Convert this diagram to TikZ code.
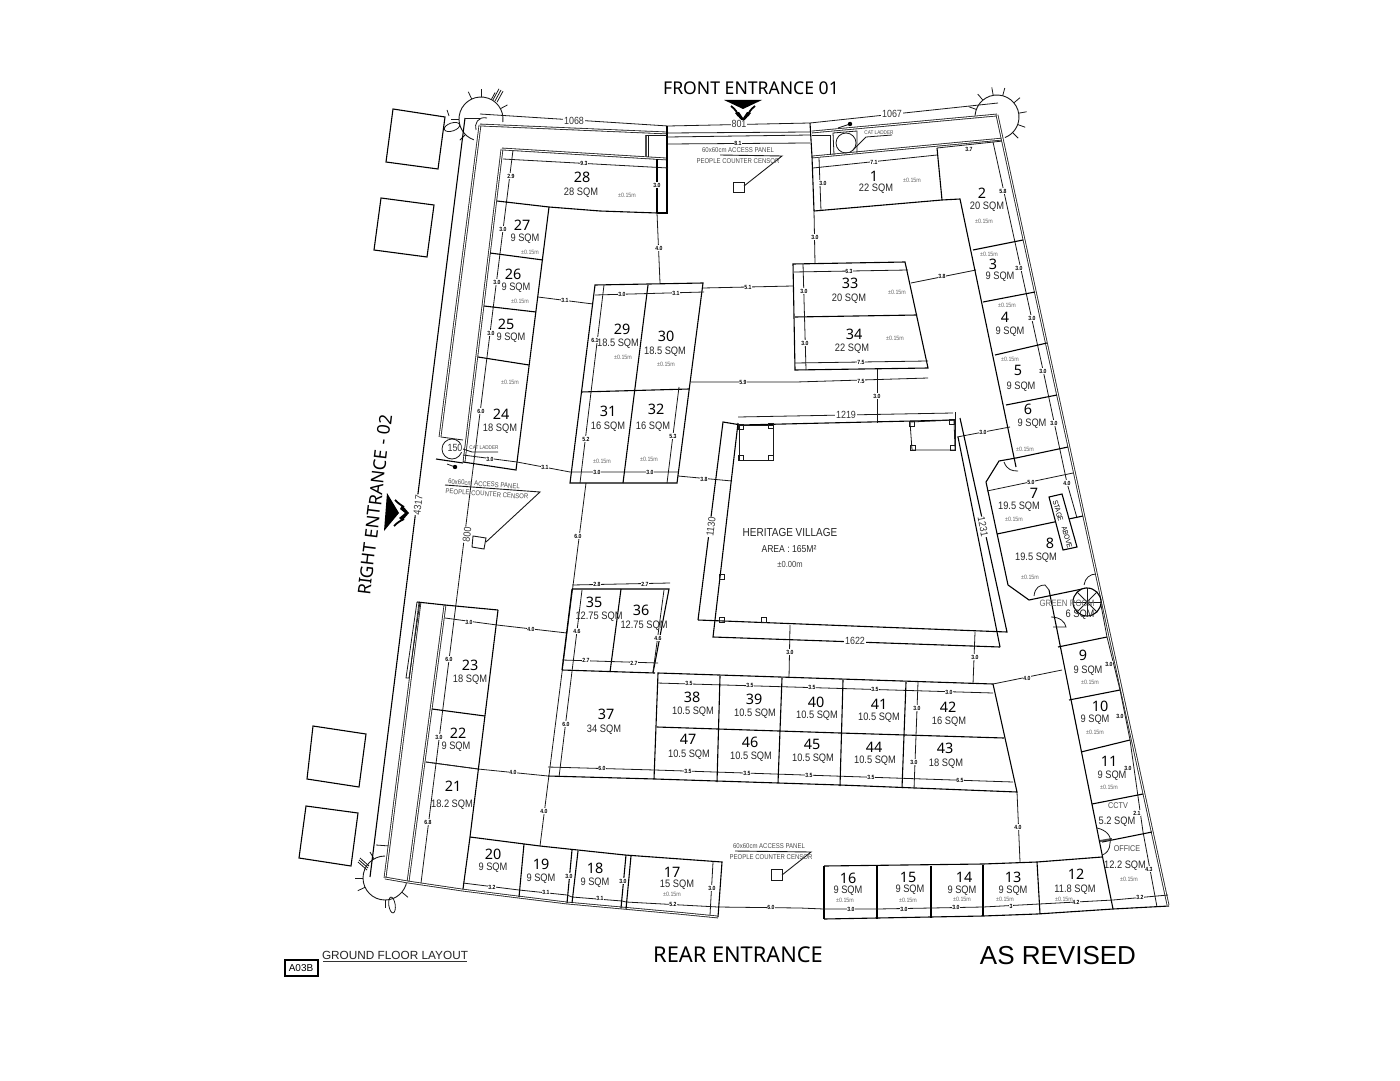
\documentclass[tikz,border=0pt]{standalone}
\usepackage{fontspec}
\setmainfont{Liberation Sans}
\newfontfamily\numfont{Noto Sans}
\newfontfamily\sqfont[FakeStretch=.86]{Liberation Sans}
\usetikzlibrary{calc}
\newcount\lblc
\newcommand{\nextl}{\global\advance\lblc by 1 }
\tikzset{
 ln/.style={line width=.55pt,black},
 fine/.style={line width=.4pt,black!90},
 wallx/.style={line width=.42pt,double=white,double distance=.5pt,black!85},
 wallb/.style={line width=1pt,black!70},
 rnumst/.style={font=\numfont\fontsize{7.2}{8}\selectfont,inner sep=0pt,text=black},
 rsqst/.style={font=\sqfont\fontsize{5.4}{6}\selectfont,inner sep=0pt,text=black!85},
 rlvst/.style={font=\sqfont\fontsize{3.1}{4}\selectfont,inner sep=0pt,text=black!60},
 dimst/.style={font=\bfseries\sqfont\fontsize{3}{3}\selectfont,inner sep=.25pt,fill=white,text=black},
 bigdim/.style={font=\sqfont\fontsize{5.2}{5}\selectfont,inner sep=.3pt,fill=white,text=black!80},
 notest/.style={font=\sqfont\fontsize{3.5}{4}\selectfont,inner sep=0pt,text=black!70},
 titlest/.style={font=\numfont\fontsize{8.8}{10}\selectfont,inner sep=0pt,text=black},
}
\newcommand{\rnum}[3]{\node[rnumst] (n#3) at (#1,#2) {#3};}
\newcommand{\rsq}[3]{\nextl\node[rsqst] (q\the\lblc) at (#1,#2) {#3};}
\newcommand{\rlv}[2]{\nextl\node[rlvst] (v\the\lblc) at (#1,#2) {±0.15m};}
\newcommand{\dm}[3]{\nextl\node[dimst] (d\the\lblc) at (#1,#2) {#3};}
\newcommand{\bd}[4][0]{\nextl\node[bigdim,rotate=#1] (b\the\lblc) at (#2,#3) {#4};}
\newcommand{\corner}[5]{% cx cy start end ticks
 \draw[fine,line width=.45pt] (#1,#2) ++(#3:11pt) arc[start angle=#3,end angle=#4,radius=11pt];
 \foreach \a in {#5}{\draw[fine] (#1,#2) ++(\a:11pt) -- ++(\a:4pt);}
}
\newcommand{\sqr}[2]{\draw[fine] (#1-2.5,#2-2.5) rectangle (#1+2.5,#2+2.5);}
\begin{document}
\begin{tikzpicture}[x=.5pt,y=-.5pt]
\useasboundingbox (0,0) rectangle (1400,1080);
\fill[white] (0,0) rectangle (1400,1080);
% outside squares
\draw[ln] (393,109)--(445,117)--(438,169)--(386,162)--cycle;
\draw[ln] (381,198)--(434,205)--(427,257)--(374,250)--cycle;
\draw[ln] (313,726)--(366,734)--(359,787)--(307,779)--cycle;
\draw[ln] (306,806)--(358,813)--(351,866)--(299,858)--cycle;
% corners
\corner{481}{119}{-8}{251}{28,62,90,115,180,225}
\corner{997}{117}{176}{-69}{160,130,100,75,40,10,-20,-45}
\corner{385}{878}{90}{352}{120,180,205,270,320}
\draw[fine] (452,127) ellipse [x radius=4pt,y radius=2pt,rotate=18];
\draw[fine] (392,905) ellipse [x radius=1.6pt,y radius=4pt,rotate=8];
\foreach \d in {-2,0,2}{\draw[fine] (495+\d,101+.6*\d)--(501+\d,90+.6*\d);\draw[fine] (368+\d*.5,868-\d)--(359+\d*.5,860-\d);}
\draw[fine] (447,110)--(449,116);
\draw[fine] (376,845)--(390,846);
% left outer lines
\draw[ln] (465,118)--(370,877);
\draw[wallx] (480,125)--(440,437);
\draw[wallx] (420,602)--(385,878);
\draw[wallx] (502,149)--(464,462);
\draw[wallx] (445,605)--(408,882);
\draw[fine] (417,602)--(406,678)--(409,678)--(420,602);
\draw[ln] (417,602)--(445,605);
% dim long left
\draw[fine] (513,150)--(421,883);
\draw[fine] (465,118)--(480,118);
\draw[fine] (476,130) .. controls (474,124) and (478,116) .. (487,118);
% top walls
\draw[fine] (480,114)--(668,126)--(810,123)--(998,103);
\draw[wallx] (480,125)--(668,133);
\draw[wallx] (502,149)--(667,159);
\draw[fine] (668,133)--(810,132);
\draw[fine] (668,137)--(810,135);
\draw[fine] (668,144)--(810,143);
\draw[wallx] (812,132)--(997,115);
\draw[wallx] (812,157)--(1003,139);
\draw[ln] (667,126)--(667,213)--(657,213);
\draw[wallb] (646,135)--(646,157);
\draw[fine] (648,135)--(648,157);
\draw[fine] (646,135)--(667,135);
\draw[ln] (810,123)--(812,157)--(814,211);
\draw[fine] (812,135)--(830,135)--(830,155);
\draw[fine] (834,155)--(833,133)--(857,131)--(857,153);
\draw[fine] (846,143) circle (5pt);
\draw[fine] (853,150)--(866,137)--(892,135);
\nextl\node[notest,font=\sqfont\fontsize{2.7}{3}\selectfont] (cat1) at (879,133) {CAT LADDER};
\draw[fine] (838,128)--(850,124);
\fill (850,124) circle (1.1pt);
% room 28
\draw[ln] (497,201)--(549,207)--(600,211)--(657,213);
\draw[fine] (503,159)--(668,168);
\draw[ln] (657,159)--(657,213);
% rooms 24-27
\draw[ln] (549,207)--(516,470)--(463,462);
\draw[ln] (490,253)--(543,260);
\draw[ln] (484,306)--(536,312);
\draw[ln] (478,357)--(529,365);
% cat ladder left
\draw[fine] (441,437)--(463,440);
\draw[fine] (452,449) circle (5pt);
\draw[ln] (436,459)--(463,463);
\draw[fine] (463,449)--(472,452)--(498,452);
\nextl\node[notest,font=\sqfont\fontsize{2.7}{3}\selectfont] (cat2) at (484,448) {CAT LADDER};
\draw[fine] (447,464)--(455,467);
\fill (455,467) circle (1.1pt);
% dim links
\draw[fine] (463,455)--(517,462)--(570,472)--(678,472);
\draw[fine] (538,297)--(593,304);
\draw[fine] (657,213)--(660,283);
\draw[fine] (814,211)--(815,264);
\draw[fine] (703,288)--(793,286);
\draw[fine] (911,283)--(976,270);
\draw[fine] (691,382)--(796,382)--(928,378);
\draw[fine] (877,368)--(877,423);
\draw[fine] (678,476)--(732,481);
\draw[fine] (957,437)--(1010,427);
\draw[fine] (790,625)--(789,678);
\draw[fine] (975,632)--(973,684);
\draw[fine] (993,684)--(1062,670);
\draw[fine] (1017,792)--(1020,862);
\draw[fine] (445,618)--(497,625)--(567,633);
\draw[fine] (426,762)--(478,769)--(548,776);
\draw[fine] (586,483)--(540,846);
% room 1 and right
\draw[ln] (814,211)--(942,200)--(960,199)--(1016,467);
\draw[ln] (937,148)--(942,200);
\draw[fine] (813,168)--(937,155);
\draw[fine] (819,158)--(821,211);
\draw[fine] (937,148)--(1003,141);
\draw[fine] (993,142)--(1043,370)--(1067,483)--(1077,518);
\draw[fine] (1100,600)--(1107,637)--(1120,690)--(1130,740)--(1143,832)--(1157,907);
\draw[wallx] (997,115)--(1168,905);
\draw[ln] (973,250)--(1023,240);
\draw[ln] (983,302)--(1035,292);
\draw[ln] (995,355)--(1047,343);
\draw[ln] (1006,405)--(1057,395);
\draw[ln] (1016,458)--(1068,447);
\draw[ln] (1016,458)--(999,461)--(986,482)--(1008,585)--(1029,600)--(1087,588);
\draw[fine] (987,491)--(1073,473);
\draw[ln] (997,534)--(1083,516);
\draw[fine] (1004,462) .. controls (1007,470) and (1012,471) .. (1018,471);
\draw[fine] (1034,596) .. controls (1035,587) and (1040,585) .. (1045,585)--(1049,590);
\draw[fine] (1084,585) .. controls (1085,578) and (1090,574) .. (1096,574);
\draw[fine] (1051,617) .. controls (1060,617) and (1065,622) .. (1066,627)--(1053,627);
% stage above
\draw[ln,fill=white] (1049,497)--(1062,494)--(1077,547)--(1063,550)--cycle;
\nextl\node[font=\sqfont\fontsize{3.7}{5}\selectfont,inner sep=0pt,rotate=-74] (st1) at (1058,511) {STAGE};
\nextl\node[font=\sqfont\fontsize{3.7}{5}\selectfont,inner sep=0pt,rotate=-74] (st2) at (1067,537) {ABOVE};
% right lower
\draw[ln] (1049,590)--(1113,909);
\draw[ln] (1058,647)--(1107,637);
\draw[ln] (1069,700)--(1120,690);
\draw[ln] (1081,752)--(1130,740);
\draw[ln] (1092,804)--(1143,794);
\draw[ln] (1102,842)--(1152,832);
\draw[wallb] (1100,841)--(1112,839);
\draw[fine] (1097,828) .. controls (1106,830) and (1112,836) .. (1110,843) .. controls (1110,850) and (1106,854) .. (1102,855);
% bottom row right
\draw[ln] (824,866)--(983,864)--(1037,862)--(1102,857);
\draw[ln] (824,919)--(983,916)--(1037,914)--(1113,909)--(1169,906);
\draw[ln] (824,866)--(824,919);
\draw[ln] (877,866)--(877,919);
\draw[ln] (931,866)--(931,918);
\draw[ln] (983,865)--(983,916);
\draw[ln] (1037,862)--(1040,914);
\draw[fine] (718,907)--(800,908)--(824,909)--(877,909)--(931,908)--(983,907)--(1039,904)--(1113,900)--(1168,895);
% bottom curved wall
\draw[wallx] (385,878)--(408,882)--(462,890)--(518,897)--(567,903)--(622,908)--(677,913)--(718,917);
\draw[ln] (470,837)--(540,846)--(625,855)--(722,862)--(718,917);
\draw[ln] (470,837)--(463,889);
\draw[ln] (524,844)--(519,897);
\draw[ln] (572,850)--(567,903);
\draw[ln] (578,851)--(572,903);
\draw[ln] (626,855)--(621,908);
\draw[ln] (631,856)--(626,909);
\draw[fine] (713,862)--(710,915);
\draw[fine] (463,883)--(519,890)--(567,895)--(572,897)--(622,901)--(626,902)--(718,907);
% rooms 21-23
\draw[ln] (498,610)--(470,837);
\draw[ln] (445,605)--(498,610);
\draw[ln] (432,709)--(485,716);
\draw[fine] (426,762)--(478,769);
% block 29-32
\draw[ln] (595,285)--(703,283)--(677,483)--(570,483)--cycle;
\draw[ln] (581,392)--(689,389);
\draw[ln] (648,285)--(623,483);
\draw[fine] (595,295)--(704,292);
\draw[fine] (604,285)--(580,483);
\draw[fine] (679,387)--(667,483);
% block 33-34
\draw[ln] (793,264)--(905,262)--(928,368)--(795,370)--cycle;
\draw[ln] (795,317)--(917,315);
\draw[fine] (794,272)--(908,270);
\draw[fine] (803,264)--(806,370);
\draw[fine] (795,363)--(928,361);
% heritage
\draw[fine] (738,417)--(953,413);
\draw[ln] (698,620)--(723,422)--(741,425)--(955,420);
\draw[ln] (738,423)--(713,637)--(1000,647);
\draw[ln] (698,620)--(1007,632)--(960,418);
\draw[ln] (1000,647)--(958,437);
\draw[fine] (739,425) rectangle (773,460);
\draw[fine] (910,422)--(954,420)--(955,450)--(912,450)--cycle;
\sqr{741}{427}\sqr{771}{426}\sqr{741}{458}\sqr{771}{458}
\sqr{912}{424}\sqr{952}{422}\sqr{913}{448}\sqr{953}{448}
\sqr{722}{577}\sqr{722}{620}\sqr{764}{620}
\draw[fine] (955,412)--(955,450);
% block 35-37
\draw[ln] (572,589)--(669,589)--(653,673);
\draw[ln] (621,589)--(610,672);
\draw[ln] (572,589)--(562,670);
\draw[ln] (562,670)--(655,673);
\draw[fine] (572,585)--(670,583);
\draw[fine] (562,660)--(658,663);
\draw[fine] (582,590)--(559,777);
\draw[fine] (664,590)--(653,672);
\draw[ln] (548,776)--(655,779)--(840,785)--(1017,792)--(993,684)--(658,673)--(654,779);
\draw[ln] (657,727)--(840,733)--(1004,738);
\draw[fine] (657,683)--(993,693);
\draw[fine] (548,767)--(655,770)--(1013,782);
\draw[ln] (720,676)--(717,782);
\draw[ln] (782,678)--(778,783);
\draw[ln] (843,680)--(840,786);
\draw[ln] (906,682)--(902,788);
\draw[fine] (918,682)--(914,789);
% panels
\draw[fine,line width=.45pt] (720,155)--(782,156)--(744,186);
\draw[fine,line width=.45pt] (733,182) rectangle (744,192);
\draw[fine,line width=.45pt] (445,485)--(540,492)--(486,542);
\draw[fine,line width=.45pt] (473,536)--(486,538)--(484,549)--(472,547)--cycle;
\draw[fine,line width=.45pt] (735,851)--(811,852)--(782,875);
\draw[fine,line width=.45pt] (771,869) rectangle (782,880);
\node[notest] (p1a) at (738,150) {60x60cm ACCESS PANEL};
\node[notest] (p1b) at (738,161) {PEOPLE COUNTER CENSOR};
\node[notest,rotate=-4] (p2a) at (484,484) {60x60cm ACCESS PANEL};
\node[notest,rotate=-4] (p2b) at (487,494) {PEOPLE COUNTER CENSOR};
\node[notest] (p3a) at (769,846) {60x60cm ACCESS PANEL};
\node[notest] (p3b) at (771,857) {PEOPLE COUNTER CENSOR};
% spiral
\draw[ln,fill=white] (1087,602) circle (7pt);
\foreach \a in {0,45,90,135}{\draw[fine] (1087,602) ++(\a:7pt) -- ++(\a+180:14pt);}
% entrance arrows
\fill (724,100)--(762,100)--(743,109)--cycle;
\draw[line width=.9pt,line join=miter] (731,106) .. controls (736,110) and (737,112) .. (738,116);
\draw[line width=.9pt,line join=miter] (755,106) .. controls (750,110) and (749,112) .. (748,116);
\fill (743,122)--(735,113)--(739,112)--(743,118)--(747,112)--(751,113)--cycle;
\fill (387,493)--(384,531)--(399,513)--cycle;
\draw[line width=.9pt] (395,500) .. controls (399,504) and (401,505) .. (404,507);
\draw[line width=.9pt] (394,526) .. controls (398,522) and (400,521) .. (404,519);
\fill (409,513)--(402,505)--(400,509)--(405,513)--(399,518)--(402,521)--cycle;
% titles
\node[titlest] (tf) at (751,88) {FRONT ENTRANCE 01};
\node[titlest,rotate=83] (tr) at (375,505) {RIGHT ENTRANCE - 02};
\node[titlest,font=\numfont\fontsize{10.9}{12}\selectfont] (tb) at (738,955) {REAR ENTRANCE};
\node[font=\fontsize{13}{14}\selectfont,inner sep=0pt] (ta) at (1058,956) {AS REVISED};
\node[font=\fontsize{5.9}{6}\selectfont,inner sep=0pt,text=black!85] (tg) at (395,955) {GROUND FLOOR LAYOUT};
\draw[line width=.5pt,black!80] (323,961)--(467,961);
\draw[line width=.55pt] (285,960) rectangle (318,976);
\node[font=\fontsize{5}{6}\selectfont,inner sep=0pt] (ta3) at (301,968) {A03B};
% heritage text
\node[font=\sqfont\fontsize{5.8}{6}\selectfont,inner sep=0pt,text=black!85] (hv1) at (790,533) {HERITAGE VILLAGE};
\node[font=\sqfont\fontsize{5}{6}\selectfont,inner sep=0pt,text=black!85] (hv2) at (789,549) {AREA : 165M²};
\node[font=\sqfont\fontsize{4.4}{5}\selectfont,inner sep=0pt,text=black!75] (hv3) at (790,564) {±0.00m};
% big dims
\bd{574}{121}{1068}\bd{739}{124}{801}\bd{892}{114}{1067}\bd{846}{415}{1219}
\bd[-79]{983}{527}{1231}\bd[83]{711}{527}{1130}\bd[83]{467}{535}{800}\bd[83]{418}{505}{4317}\bd{855}{641}{1622}\bd{455}{448}{150}
% small dims
\dm{738}{143}{8.1}\dm{874}{162}{7.1}\dm{584}{163}{9.3}\dm{969}{149}{3.7}\dm{1003}{191}{5.8}
\dm{511}{176}{2.9}\dm{657}{185}{3.0}\dm{823}{183}{3.0}\dm{503}{229}{3.0}\dm{497}{282}{3.0}\dm{491}{333}{3.0}\dm{481}{411}{6.0}
\dm{659}{248}{4.0}\dm{815}{237}{3.0}\dm{565}{300}{3.1}\dm{622}{294}{3.0}\dm{676}{293}{3.1}\dm{748}{287}{5.1}\dm{942}{276}{3.8}
\dm{849}{271}{6.3}\dm{804}{291}{3.0}\dm{805}{343}{3.0}\dm{861}{362}{7.5}\dm{861}{381}{7.5}\dm{743}{382}{5.9}\dm{877}{396}{3.0}
\dm{595}{340}{6.1}\dm{586}{439}{5.2}\dm{673}{436}{5.3}\dm{597}{472}{3.0}\dm{650}{472}{3.0}\dm{545}{467}{3.1}\dm{490}{459}{3.0}\dm{704}{479}{3.8}
\dm{1019}{268}{3.0}\dm{1032}{318}{3.0}\dm{1043}{371}{3.0}\dm{1054}{423}{3.0}\dm{983}{432}{3.0}\dm{1031}{482}{5.0}\dm{1067}{483}{4.0}
\dm{578}{536}{6.0}\dm{597}{584}{2.8}\dm{645}{584}{2.7}\dm{577}{631}{4.6}\dm{658}{638}{4.6}\dm{586}{660}{2.7}\dm{634}{663}{2.7}
\dm{469}{622}{3.0}\dm{531}{629}{4.0}\dm{449}{659}{6.0}\dm{566}{724}{6.0}\dm{602}{768}{6.0}
\dm{689}{683}{3.5}\dm{750}{685}{3.5}\dm{812}{687}{3.5}\dm{875}{689}{3.5}\dm{949}{692}{3.0}\dm{917}{708}{3.0}\dm{914}{762}{3.0}
\dm{688}{771}{3.5}\dm{747}{773}{3.5}\dm{809}{775}{3.5}\dm{871}{777}{3.5}\dm{960}{780}{6.5}\dm{790}{652}{3.0}\dm{975}{657}{3.0}\dm{1027}{678}{4.0}
\dm{1109}{664}{3.0}\dm{1120}{716}{3.0}\dm{1128}{768}{3.0}\dm{1137}{813}{2.1}\dm{1149}{869}{4.3}\dm{1140}{897}{3.2}\dm{1076}{902}{4.2}
\dm{1011}{906}{3}\dm{956}{907}{3.0}\dm{904}{909}{3.0}\dm{851}{909}{3.0}\dm{771}{907}{6.0}\dm{673}{904}{5.2}\dm{600}{898}{3.1}\dm{546}{892}{3.1}\dm{492}{887}{3.2}
\dm{569}{876}{3.0}\dm{623}{881}{3.0}\dm{712}{888}{3.0}\dm{544}{811}{4.0}\dm{513}{772}{4.0}\dm{439}{737}{3.0}\dm{428}{822}{6.8}\dm{1018}{827}{4.0}
% room labels
\rnum{874}{176}{1}\rsq{876}{189}{22 SQM}\rlv{912}{180}
\rnum{982}{193}{2}\rsq{987}{207}{20 SQM}\rlv{984}{221}
\rnum{993}{264}{3}\rsq{1000}{277}{9 SQM}\rlv{989}{254}
\rnum{1005}{317}{4}\rsq{1010}{332}{9 SQM}\rlv{1007}{305}
\rnum{1018}{370}{5}\rsq{1021}{387}{9 SQM}\rlv{1010}{359}
\rnum{1028}{409}{6}\rsq{1032}{424}{9 SQM}\rlv{1025}{449}
\rnum{1034}{493}{7}\rsq{1019}{507}{19.5 SQM}\rlv{1014}{519}
\rnum{1050}{543}{8}\rsq{1036}{558}{19.5 SQM}\rlv{1030}{577}
\nextl\node[rsqst,font=\sqfont\fontsize{4.6}{5}\selectfont,text=black!60] (gr1) at (1067,603) {GREEN ROOM};
\rsq{1080}{615}{6 SQM}
\rnum{1083}{655}{9}\rsq{1088}{671}{9 SQM}\rlv{1090}{682}
\rnum{1100}{706}{10}\rsq{1095}{720}{9 SQM}\rlv{1095}{732}
\rnum{1109}{761}{11}\rsq{1112}{776}{9 SQM}\rlv{1109}{787}
\node[rsqst,font=\sqfont\fontsize{4.2}{5}\selectfont,text=black!70] (cc) at (1118,806) {CCTV};
\rsq{1117}{822}{5.2 SQM}
\node[rsqst,font=\sqfont\fontsize{4.2}{5}\selectfont,text=black!70] (of) at (1127,849) {OFFICE};
\rsq{1125}{866}{12.2 SQM}\rlv{1129}{879}
\rnum{1076}{874}{12}\rsq{1075}{890}{11.8 SQM}\rlv{1064}{899}
\rnum{1013}{877}{13}\rsq{1013}{891}{9 SQM}\rlv{1005}{899}
\rnum{964}{877}{14}\rsq{962}{891}{9 SQM}\rlv{962}{899}
\rnum{908}{877}{15}\rsq{910}{890}{9 SQM}\rlv{908}{900}
\rnum{848}{878}{16}\rsq{848}{891}{9 SQM}\rlv{845}{900}
\rnum{672}{872}{17}\rsq{677}{885}{15 SQM}\rlv{672}{894}
\rnum{595}{868}{18}\rsq{595}{883}{9 SQM}
\rnum{541}{864}{19}\rsq{541}{879}{9 SQM}
\rnum{493}{854}{20}\rsq{493}{868}{9 SQM}
\rnum{453}{786}{21}\rsq{452}{805}{18.2 SQM}
\rnum{458}{733}{22}\rsq{456}{747}{9 SQM}
\rnum{470}{665}{23}\rsq{470}{680}{18 SQM}
\rnum{501}{414}{24}\rsq{500}{429}{18 SQM}\rlv{510}{382}
\rnum{506}{324}{25}\rsq{511}{338}{9 SQM}
\rnum{513}{274}{26}\rsq{516}{288}{9 SQM}\rlv{520}{301}
\rnum{522}{225}{27}\rsq{525}{239}{9 SQM}\rlv{530}{252}
\rnum{582}{177}{28}\rsq{581}{193}{28 SQM}\rlv{627}{195}
\rnum{622}{329}{29}\rsq{618}{344}{18.5 SQM}\rlv{623}{357}
\rnum{666}{336}{30}\rsq{665}{352}{18.5 SQM}\rlv{666}{364}
\rnum{608}{411}{31}\rsq{608}{427}{16 SQM}\rlv{602}{461}
\rnum{656}{409}{32}\rsq{653}{427}{16 SQM}\rlv{649}{459}
\rnum{850}{283}{33}\rsq{849}{299}{20 SQM}\rlv{897}{292}
\rnum{854}{334}{34}\rsq{852}{349}{22 SQM}\rlv{895}{338}
\rnum{594}{602}{35}\rsq{599}{617}{12.75 SQM}
\rnum{641}{610}{36}\rsq{644}{626}{12.75 SQM}
\rnum{606}{714}{37}\rsq{604}{730}{34 SQM}
\rnum{692}{697}{38}\rsq{693}{712}{10.5 SQM}
\rnum{754}{699}{39}\rsq{755}{714}{10.5 SQM}
\rnum{816}{702}{40}\rsq{817}{716}{10.5 SQM}
\rnum{879}{704}{41}\rsq{879}{718}{10.5 SQM}
\rnum{948}{707}{42}\rsq{949}{722}{16 SQM}
\rnum{945}{748}{43}\rsq{946}{764}{18 SQM}
\rnum{874}{747}{44}\rsq{875}{761}{10.5 SQM}
\rnum{812}{744}{45}\rsq{813}{759}{10.5 SQM}
\rnum{750}{742}{46}\rsq{751}{757}{10.5 SQM}
\rnum{688}{739}{47}\rsq{689}{755}{10.5 SQM}
\end{tikzpicture}
\end{document}
